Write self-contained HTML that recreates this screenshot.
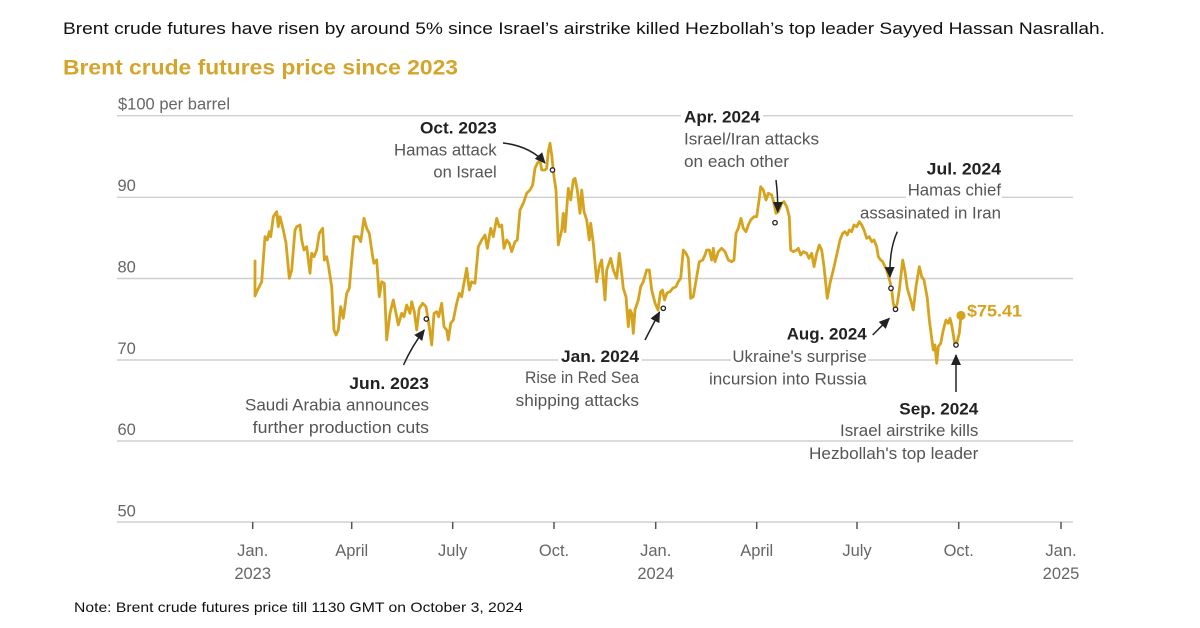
<!DOCTYPE html>
<html><head><meta charset="utf-8">
<style>
html,body{margin:0;padding:0;background:#fff;}
svg{display:block;}
.hdr{font-family:"Liberation Sans",sans-serif;font-size:16.5px;fill:#111;}
.ttl{font-family:"Liberation Sans",sans-serif;font-size:21px;font-weight:bold;fill:#D5A52B;}
.ax{font-family:"Liberation Sans",sans-serif;font-size:16.5px;fill:#666;}
.an{font-family:"Liberation Sans",sans-serif;font-size:17px;fill:#555;}
.ab{font-family:"Liberation Sans",sans-serif;font-size:17px;font-weight:bold;fill:#222;}
.note{font-family:"Liberation Sans",sans-serif;font-size:14px;fill:#111;}
</style></head>
<body>
<svg width="1200" height="628" viewBox="0 0 1200 628" xmlns="http://www.w3.org/2000/svg">
<defs>
<marker id="ah" markerUnits="userSpaceOnUse" markerWidth="11" markerHeight="10" refX="10" refY="5" orient="auto">
<path d="M0,0 L11,5 L0,10 z" fill="#222"/>
</marker>
</defs>
<rect width="1200" height="628" fill="#fff"/>

<text class="hdr" x="63" y="34" textLength="1042" lengthAdjust="spacingAndGlyphs">Brent crude futures have risen by around 5% since Israel’s airstrike killed Hezbollah’s top leader Sayyed Hassan Nasrallah.</text>
<text class="ttl" x="63" y="74.5" textLength="395" lengthAdjust="spacingAndGlyphs">Brent crude futures price since 2023</text>

<!-- gridlines -->
<g stroke="#cfcfcf" stroke-width="1.4">
<line x1="117" y1="115.7" x2="1073" y2="115.7"/>
<line x1="117" y1="197.3" x2="1073" y2="197.3"/>
<line x1="117" y1="278.5" x2="1073" y2="278.5"/>
<line x1="117" y1="360" x2="1073" y2="360"/>
<line x1="117" y1="441" x2="1073" y2="441"/>
<line x1="117" y1="522" x2="1073" y2="522"/>
</g>
<!-- knockouts -->
<g fill="#fff">
<rect x="681" y="112" width="82" height="8"/>
<rect x="906" y="193" width="96" height="8"/>
<rect x="731" y="356" width="137" height="8"/>
<rect x="558" y="356" width="84" height="8"/>
</g>

<!-- y labels -->
<text class="ax" x="118" y="109.5" textLength="112" lengthAdjust="spacingAndGlyphs">$100 per barrel</text>
<text class="ax" x="117.5" y="191">90</text>
<text class="ax" x="117.5" y="272.5">80</text>
<text class="ax" x="117.5" y="354">70</text>
<text class="ax" x="117.5" y="435">60</text>
<text class="ax" x="117.5" y="516.5">50</text>

<!-- ticks -->
<g stroke="#555" stroke-width="1.5">
<line x1="252.7" y1="522" x2="252.7" y2="529"/>
<line x1="351.7" y1="522" x2="351.7" y2="529"/>
<line x1="452.7" y1="522" x2="452.7" y2="529"/>
<line x1="554" y1="522" x2="554" y2="529"/>
<line x1="655.7" y1="522" x2="655.7" y2="529"/>
<line x1="756.7" y1="522" x2="756.7" y2="529"/>
<line x1="857" y1="522" x2="857" y2="529"/>
<line x1="958.7" y1="522" x2="958.7" y2="529"/>
<line x1="1061" y1="522" x2="1061" y2="529"/>
</g>
<g class="ax" text-anchor="middle">
<text class="ax" x="252.7" y="556">Jan.</text>
<text class="ax" x="252.7" y="579">2023</text>
<text class="ax" x="351.7" y="556">April</text>
<text class="ax" x="452.7" y="556">July</text>
<text class="ax" x="554" y="556">Oct.</text>
<text class="ax" x="655.7" y="556">Jan.</text>
<text class="ax" x="655.7" y="579">2024</text>
<text class="ax" x="756.7" y="556">April</text>
<text class="ax" x="857" y="556">July</text>
<text class="ax" x="958.7" y="556">Oct.</text>
<text class="ax" x="1061" y="556">Jan.</text>
<text class="ax" x="1061" y="579">2025</text>
</g>

<!-- price line -->
<polyline fill="none" stroke="#D6A31F" stroke-width="2.8" stroke-linejoin="round" stroke-linecap="round" points="255,261 255,296 256.7,291.7 261.7,281.7 265,236.7 267.3,240 269.3,231.7 270.7,236.7 273.3,216.7 276.7,211.7 278.3,226.7 280,216.7 283.3,230 286,243 289.3,278.3 291.7,270 295,230 296.7,226.7 300,225 301.7,240 304,250 306.7,246.7 310,273.3 311.7,253.3 314,256.7 316.7,250 319.3,233.3 322.7,228.3 324.3,260 326.7,256.7 328.3,265 331.7,286.7 334,330 336,335 338.3,330 340.7,306.7 343.3,318.3 346.7,293.3 349.3,288.3 351.7,260 354,236.7 358.3,236.7 360.7,241.7 364,218.3 366.7,228.3 369.3,233.3 372.7,256.7 374,263.3 376.7,260 379.3,296.7 381.7,281.7 384.3,283.3 386.7,340 390,313.3 393.3,300 396.7,316.7 398.3,325 401.7,313.3 404,316.7 406.7,305 410,313.3 411.7,301.7 414.3,311.7 416.7,330 419.3,308.3 422.7,303.3 426,306.7 429.3,326.7 431.7,345 434,313.3 436.7,311.7 438.7,316.7 441.7,303.3 444,326.7 446.7,330 448.3,340 450.7,323.3 453.3,320 456.7,303.3 459.3,293.3 461.7,296.7 463.3,286.7 466.7,268.3 469.3,290 471.7,281.7 475,283.3 478.3,246.7 481.7,240 485,235 487.3,248.3 490.7,228.3 493.3,236.7 496.7,218.3 499.3,226.7 501.7,225 504,248.3 506.7,240 509.3,243.3 511.7,251.7 515,241.7 517.3,240 520,210 523.3,203.3 526.7,193.3 530,190 532.7,185 535,168.3 537.3,163.3 540,160 541.7,170 545,170 546.7,168.3 548.3,151.7 550,143.3 551.7,155 554,176.7 556,190 558.3,245 561.7,230 563.3,213.3 565,231.7 568.3,188.3 570.7,200 573.3,180 575,178.3 577.3,190 580,213.3 581.7,190 584,211.7 586.7,220 589.3,240 590.7,223.3 593.3,243.3 596.7,281.7 599.3,266.7 601.7,260 605,300 606.7,270 610.7,258.3 613.3,270 616.7,278.3 619.3,253.3 621.7,273.3 623.3,288.3 626,296.7 628.3,326.7 630,310 631.7,313.3 633.3,333.3 635,310 638.3,300 640.7,286.7 643.3,281.7 646.7,270 649.3,270 651.7,290 655,303 658,310 660.5,292 662.5,290 664.5,300 667,293 670,291.7 672.7,288.3 676,286.7 678.3,281.7 680.7,278.3 683.3,250 686,253.3 688.3,258.3 690.7,298.3 693.3,296.7 696.7,276.7 699.3,261.7 702.7,260 705,255 706.7,250 709.3,250 711.7,260 713.3,248.3 715,261.7 718.3,251.7 721.7,248.3 725,251.7 728.3,260 731.7,261.7 734,260 736,233.3 738.3,228.3 741,218.3 743.3,228.3 746,231.7 748.3,225 750.7,220 754,216.7 756.7,216.7 759.3,198.3 760.7,186.7 763.3,190 766,200 768.3,193.3 771.7,195 774,203.3 776,213.3 778.3,211.7 781.7,203.3 784,201.7 786.7,206.7 789.3,216.7 790.7,250 793.3,251.7 796.7,250 798.3,248.3 800.7,255 803.3,251.7 806.7,253.3 809,258.3 811.7,253.3 814,266.7 816.7,253.3 819.3,245 821.7,250 824,266.7 827.3,298.3 830,283.3 833.3,270 836.7,255 840,240 842.7,233.3 845,231.7 847.3,235 849.3,230 851.7,231.7 854,225 856.7,226.7 859.3,221.7 861.7,225 864,230 866.7,238.3 869.3,236.7 871.7,241.7 874,240 876.7,246.7 878.3,256.7 880.7,260 882.7,261.7 885,266.7 886.7,270 890,281.7 891.7,290 893.3,303.3 895,310 897.3,303.3 899.3,290 902.7,260 905,271.7 907.3,288.3 910.7,300 913.3,310 916,286.7 919.3,266.7 921.7,276.7 924,280 927.3,298.3 929.3,320 931.7,338.3 933.3,350 935,345 936.7,363.3 938.3,346.7 940.7,343.3 943.3,330 946,320 948.3,323.3 950,318.3 951.7,325 955,345 956.7,343.3 959.3,333.3 961,316"/>
<circle cx="961" cy="315.5" r="4.6" fill="#D6A31F"/>
<text x="967" y="316.5" font-family="Liberation Sans, sans-serif" font-size="16.5" font-weight="bold" fill="#D6A31F" textLength="55" lengthAdjust="spacingAndGlyphs">$75.41</text>

<!-- arrows -->
<g fill="none" stroke="#222" stroke-width="1.5" marker-end="url(#ah)">
<path d="M503,143 Q530,146 545,163"/>
<path d="M403.5,365 Q412,346 424.3,330"/>
<path d="M645,340 L659.5,312"/>
<path d="M776,180 Q778,196 777.7,212"/>
<path d="M897.3,231.7 Q889,250 890,277"/>
<path d="M872.7,335 L889.3,318.3"/>
<path d="M956,392 L956,355"/>
</g>

<!-- event dots -->
<g fill="#fff" stroke="#222" stroke-width="1.3">
<circle cx="426.3" cy="319" r="2.2"/>
<circle cx="552.5" cy="170" r="2.2"/>
<circle cx="663.3" cy="308.3" r="2.2"/>
<circle cx="775" cy="222.7" r="2.2"/>
<circle cx="891" cy="288.3" r="2.2"/>
<circle cx="895.5" cy="309.3" r="2.2"/>
<circle cx="956" cy="345" r="2.2"/>
</g>

<!-- annotations -->
<g text-anchor="end">
<text class="ab" x="496.7" y="133.5" textLength="76.7" lengthAdjust="spacingAndGlyphs">Oct. 2023</text>
<text class="an" x="496.7" y="155.5" textLength="102.7" lengthAdjust="spacingAndGlyphs">Hamas attack</text>
<text class="an" x="496.7" y="177.5" textLength="63.3" lengthAdjust="spacingAndGlyphs">on Israel</text>

<text class="ab" x="429" y="389" textLength="79.7" lengthAdjust="spacingAndGlyphs">Jun. 2023</text>
<text class="an" x="429" y="410.5" textLength="184" lengthAdjust="spacingAndGlyphs">Saudi Arabia announces</text>
<text class="an" x="429" y="433" textLength="176.3" lengthAdjust="spacingAndGlyphs">further production cuts</text>

<text class="ab" x="639" y="362" textLength="78" lengthAdjust="spacingAndGlyphs">Jan. 2024</text>
<text class="an" x="639" y="383" textLength="114" lengthAdjust="spacingAndGlyphs">Rise in Red Sea</text>
<text class="an" x="639" y="406" textLength="123.3" lengthAdjust="spacingAndGlyphs">shipping attacks</text>

<text class="ab" x="1001" y="174.5" textLength="74.3" lengthAdjust="spacingAndGlyphs">Jul. 2024</text>
<text class="an" x="1001" y="195.5" textLength="93.3" lengthAdjust="spacingAndGlyphs">Hamas chief</text>
<text class="an" x="1001" y="218.5" textLength="141" lengthAdjust="spacingAndGlyphs">assasinated in Iran</text>

<text class="ab" x="866.7" y="339.5" textLength="80" lengthAdjust="spacingAndGlyphs">Aug. 2024</text>
<text class="an" x="866.7" y="362" textLength="134.3" lengthAdjust="spacingAndGlyphs">Ukraine's surprise</text>
<text class="an" x="866.7" y="384.5" textLength="157.7" lengthAdjust="spacingAndGlyphs">incursion into Russia</text>

<text class="ab" x="978.3" y="414.5" textLength="79" lengthAdjust="spacingAndGlyphs">Sep. 2024</text>
<text class="an" x="978.3" y="436" textLength="138.3" lengthAdjust="spacingAndGlyphs">Israel airstrike kills</text>
<text class="an" x="978.3" y="459" textLength="169.3" lengthAdjust="spacingAndGlyphs">Hezbollah's top leader</text>
</g>
<text class="ab" x="684" y="122.5" textLength="76" lengthAdjust="spacingAndGlyphs">Apr. 2024</text>
<text class="an" x="684" y="144.5" textLength="135" lengthAdjust="spacingAndGlyphs">Israel/Iran attacks</text>
<text class="an" x="684" y="167" textLength="105" lengthAdjust="spacingAndGlyphs">on each other</text>

<text class="note" x="74" y="612" textLength="449" lengthAdjust="spacingAndGlyphs">Note: Brent crude futures price till 1130 GMT on October 3, 2024</text>
</svg>
</body></html>
